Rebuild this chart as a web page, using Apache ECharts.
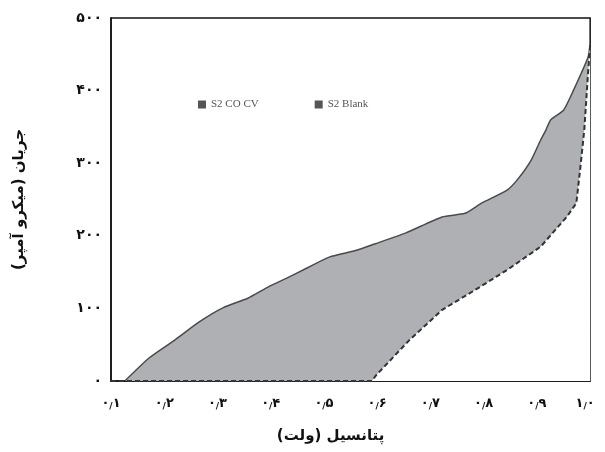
<!DOCTYPE html>
<html>
<head>
<meta charset="utf-8">
<script src="https://cdn.jsdelivr.net/npm/echarts@6/dist/echarts.min.js"></script>
<style>html,body{margin:0;padding:0;background:#fff}#c{width:605px;height:452px}</style>
</head>
<body>
<div id="c"></div>
<script>
// S2 CO CV (upper curve): potential (V), current (µA)
var coX = [0.126,0.172,0.219,0.265,0.311,0.357,0.394,0.431,0.469,0.511,0.561,0.604,0.654,0.722,0.765,0.796,0.844,0.863,0.889,0.907,0.917,0.926,0.95,0.969,0.996,1.0];
var coY = [0,32,56,81,101,114,129,142,156,171,180,191,204,226,231,245,263,277,304,332,346,360,373,401,446,463];
// S2 Blank (lower dashed curve)
var blX = [0.1,0.3,0.5,0.59,0.598,0.66,0.722,0.783,0.844,0.907,0.956,0.974,0.981,0.989,0.996,1.0];
var blY = [0,0,0,0,8,56,98,125,153,185,226,245,290,346,424,463];
var seriesNames = ['S2 CO CV','S2 Blank'];
var xTitle = 'پتانسیل (ولت)';
var yTitle = 'جریان (میکرو آمپر)';

var fa = '۰۱۲۳۴۵۶۷۸۹';
function toFa(s){ return String(s).replace(/[0-9]/g,function(d){return fa[+d];}); }
function pairs(xs, ys){ return xs.map(function(x,i){ return [x, ys[i]]; }); }

var chart = echarts.init(document.getElementById('c'));
chart.setOption({
  animation:false,
  backgroundColor:'#fff',
  grid:{left:111,right:8,top:18,bottom:71,show:true,borderColor:'#111',borderWidth:1.5,backgroundColor:'transparent'},
  legend:{
    left:193, top:94, itemGap:56, itemWidth:8, itemHeight:8,
    textStyle:{fontFamily:'Liberation Serif',fontSize:11,color:'#555'},
    data:[{name:seriesNames[0],icon:'rect',itemStyle:{color:'#555'}},{name:seriesNames[1],icon:'rect',itemStyle:{color:'#555'}}]
  },
  xAxis:{
    type:'value', min:0.1, max:1.0, interval:0.1,
    axisLine:{lineStyle:{color:'#111',width:1.5}}, axisTick:{show:false}, splitLine:{show:false},
    axisLabel:{margin:16,fontFamily:'DejaVu Sans',fontWeight:'bold',fontSize:13,color:'#111',
      formatter:function(v){var p=v.toFixed(1).split('.');
        var s='{d|'+toFa(p[0])+'}{s|/}{d|'+toFa(p[1])+'}';
        if (v>0.99) s+='{p| }';
        return s;},
      rich:{d:{fontFamily:'DejaVu Sans',fontWeight:'bold',fontSize:13,color:'#111'},
            s:{fontFamily:'DejaVu Sans',fontSize:9,color:'#111',padding:[5,0,0,0]},
            p:{width:10}}},
    name:xTitle, nameLocation:'middle', nameGap:48,
    nameTextStyle:{fontFamily:'DejaVu Sans',fontWeight:'bold',fontSize:15,color:'#111',padding:[0,40,0,0]}
  },
  yAxis:{
    type:'value', min:0, max:500, interval:100,
    axisLine:{show:true,lineStyle:{color:'#111',width:1.5}}, axisTick:{show:false}, splitLine:{show:false},
    axisLabel:{margin:9,fontFamily:'DejaVu Sans',fontWeight:'bold',fontSize:14,color:'#111',
      formatter:function(v){return toFa(v);}},
    name:yTitle, nameLocation:'middle', nameGap:84, nameRotate:90,
    nameTextStyle:{fontFamily:'DejaVu Sans',fontWeight:'bold',fontSize:15,color:'#111'}
  },
  series:[
    {name:seriesNames[0], type:'line', data:pairs(coX,coY), symbol:'none', smooth:0.2,
     lineStyle:{color:'#4a4a4a',width:1.5}, itemStyle:{color:'#555'},
     areaStyle:{color:'#aeb0b3',opacity:1,origin:'start'}, z:2},
    {name:seriesNames[1], type:'line', data:pairs(blX,blY), symbol:'none', smooth:false,
     lineStyle:{color:'#333',width:2,type:[5,3]}, itemStyle:{color:'#555'},
     areaStyle:{color:'#fff',opacity:1,origin:'start'}, z:3}
  ]
});
</script>
</body>
</html>
